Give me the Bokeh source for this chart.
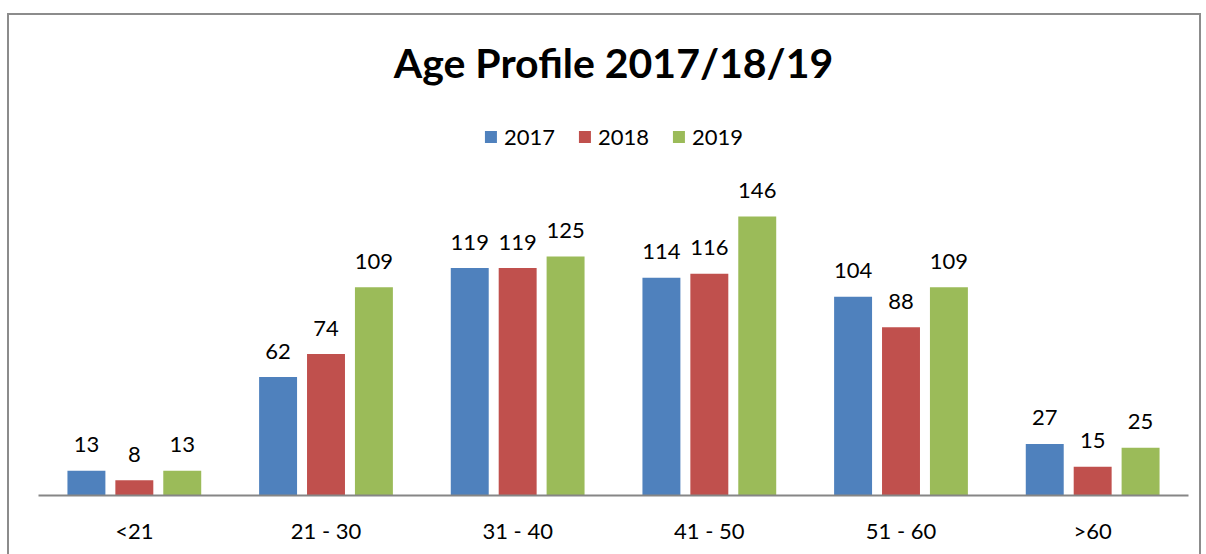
from bokeh.plotting import figure
from bokeh.models import FactorRange, Range1d, Legend, LegendItem
from bokeh.transform import dodge
from bokeh.core.properties import value
from bokeh.embed import file_html
from bokeh.resources import INLINE

categories = ["<21", "21 - 30", "31 - 40", "41 - 50", "51 - 60", ">60"]
years = ["2017", "2018", "2019"]
v2017 = [13, 62, 119, 114, 104, 27]
v2018 = [8, 74, 119, 116, 88, 15]
v2019 = [13, 109, 125, 146, 109, 25]
colors = ["#4F81BD", "#C0504D", "#9BBB59"]

FONT = "Lato"

p = figure(x_range=FactorRange(*categories, range_padding=0),
           y_range=Range1d(0, 211.4),
           frame_width=1150, frame_height=404,
           output_backend="svg", toolbar_location=None,
           min_border_left=29, min_border_right=11, min_border_bottom=59,
           min_border_top=76)
p.styles = {"margin-left": "7px", "margin-top": "13px",
            "border-left": "2px solid #8c8c8c",
            "border-top": "2px solid #8c8c8c",
            "border-right": "2px solid #8c8c8c"}

p.title.text = "Age Profile 2017/18/19"
p.title.align = "center"
p.title.text_font = FONT
p.title.text_font_size = "41px"
p.title.text_font_style = "bold"
p.title.text_color = "#000000"

offsets = [-0.25, 0.0, 0.25]
series = [v2017, v2018, v2019]
items = []
for yr, vals, col, off in zip(years, series, colors, offsets):
    src = dict(cat=categories, val=vals, lab=[str(v) for v in vals])
    r = p.vbar(x=dodge("cat", off, range=p.x_range), top="val", width=0.198,
               source=src, fill_color=col, line_color=None)
    p.text(x=dodge("cat", off, range=p.x_range), y="val", text="lab", source=src,
           text_align="center", text_baseline="alphabetic", y_offset=-26,
           text_font=value(FONT), text_font_size="22px", text_color="#000000")
    items.append(LegendItem(label=yr, renderers=[r]))

legend = Legend(items=items, orientation="horizontal", location="top_center",
                glyph_width=15, glyph_height=15, label_standoff=6, spacing=22,
                label_text_font=FONT, label_text_font_size="22px",
                label_text_color="#000000", border_line_color=None,
                background_fill_alpha=0, padding=0, margin=32)
p.add_layout(legend)

p.yaxis.visible = False
p.xgrid.visible = False
p.ygrid.visible = False
p.outline_line_color = None
p.xaxis.axis_line_color = "#868686"
p.xaxis.axis_line_width = 2
p.xaxis.major_tick_line_color = None
p.xaxis.minor_tick_line_color = None
p.xaxis.major_label_standoff = 15
p.xaxis.major_label_text_font = FONT
p.xaxis.major_label_text_font_size = "22px"
p.xaxis.major_label_text_color = "#000000"

open("out.html", "w").write(file_html(p, INLINE))
